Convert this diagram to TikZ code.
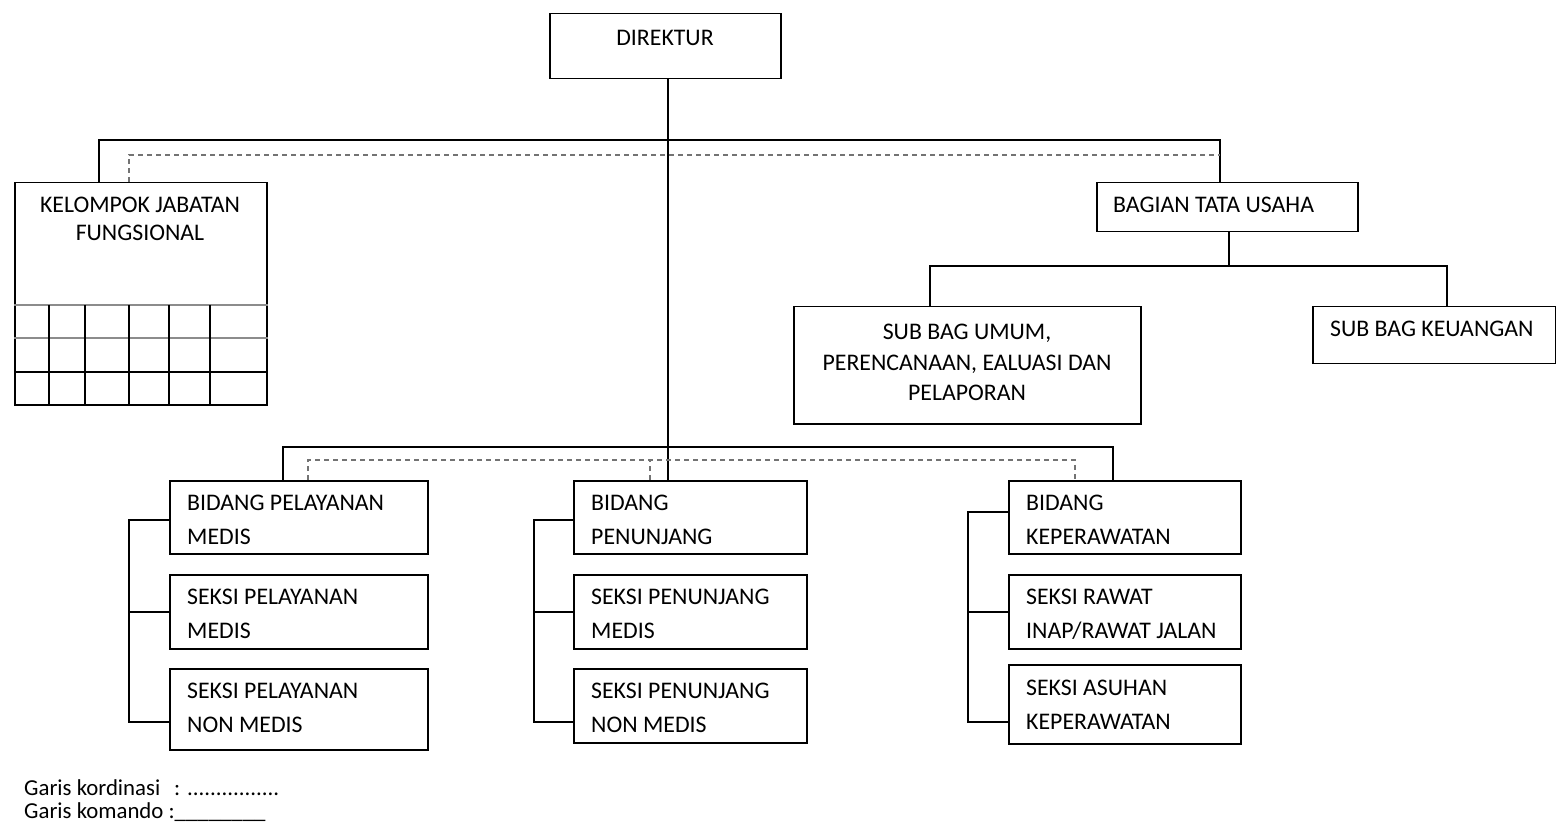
\documentclass[tikz,border=0pt]{standalone}
\usepackage{fontspec}
\setmainfont{Carlito}
\usetikzlibrary{calc}
\begin{document}
\begin{tikzpicture}[x=1pt,y=-1pt,
  box/.style={draw, line width=1.5pt, rectangle, inner sep=0pt, anchor=north west},
  lbl/.style={font=\fontsize{23.8}{34}\selectfont, align=left, inner sep=0pt, anchor=west},
  legend/.style={font=\fontsize{22.8}{24}\selectfont, inner sep=0pt, anchor=west},
  cmd/.style={line width=1.5pt},
  coordline/.style={line width=1.4pt, black!55, dash pattern=on 5pt off 4pt},
  gridln/.style={line width=1.5pt},
  gridgrey/.style={line width=1.3pt, black!45}]
\useasboundingbox (0,0) rectangle (1556,826);
% top level
\node[box, minimum width=231pt, minimum height=65pt] (dir) at (549,13) {};
\node[lbl, anchor=center] (dirT) at (665,38) {DIREKTUR};
% kelompok jabatan fungsional
\node[box, minimum width=252pt, minimum height=222pt] (kjf) at (14,182) {};
\node[lbl, anchor=center, align=center, font=\fontsize{23.8}{28}\selectfont] (kjfT) at (140,219) {KELOMPOK JABATAN\\FUNGSIONAL};
\draw[gridgrey] ($(kjf.north west)+(0,123)$) -- ($(kjf.north east)+(0,123)$);
\draw[gridgrey] ($(kjf.north west)+(0,156)$) -- ($(kjf.north east)+(0,156)$);
\draw[gridln] ($(kjf.north west)+(0,190)$) -- ($(kjf.north east)+(0,190)$);
\foreach \dx in {35,71,115,155,196}
  \draw[gridln] ($(kjf.north west)+(\dx,123)$) -- ($(kjf.south west)+(\dx,0)$);
% tata usaha
\node[box, minimum width=261pt, minimum height=49pt] (btu) at (1096,182) {};
\node[lbl] (btuT) at (1113,205) {BAGIAN TATA USAHA};
\node[box, minimum width=347pt, minimum height=117pt] (sbu) at (793,306) {};
\node[lbl, anchor=center, align=center, font=\fontsize{23.8}{30.5}\selectfont] (sbuT) at (967,362.5) {SUB BAG UMUM,\\PERENCANAAN, EALUASI DAN\\PELAPORAN};
\node[box, minimum width=243pt, minimum height=57pt] (sbk) at (1312,306) {};
\node[lbl] (sbkT) at (1330,329) {SUB BAG KEUANGAN};
% column 1
\node[box, minimum width=258pt, minimum height=73pt] (bpm) at (169,480) {};
\node[lbl] (bpmT) at ($(bpm.north west)+(18,40)$) {BIDANG PELAYANAN\\MEDIS};
\node[box, minimum width=258pt, minimum height=74pt] (spm) at (169,574) {};
\node[lbl] (spmT) at ($(spm.north west)+(18,40)$) {SEKSI PELAYANAN\\MEDIS};
\node[box, minimum width=258pt, minimum height=81pt] (spn) at (169,668) {};
\node[lbl] (spnT) at ($(spn.north west)+(18,40)$) {SEKSI PELAYANAN\\NON MEDIS};
% column 2
\node[box, minimum width=233pt, minimum height=73pt] (bpj) at (573,480) {};
\node[lbl] (bpjT) at ($(bpj.north west)+(18,40)$) {BIDANG\\PENUNJANG};
\node[box, minimum width=233pt, minimum height=74pt] (spjm) at (573,574) {};
\node[lbl] (spjmT) at ($(spjm.north west)+(18,40)$) {SEKSI PENUNJANG\\MEDIS};
\node[box, minimum width=233pt, minimum height=74pt] (spjn) at (573,668) {};
\node[lbl] (spjnT) at ($(spjn.north west)+(18,40)$) {SEKSI PENUNJANG\\NON MEDIS};
% column 3
\node[box, minimum width=232pt, minimum height=73pt] (bkp) at (1008,480) {};
\node[lbl] (bkpT) at ($(bkp.north west)+(18,40)$) {BIDANG\\KEPERAWATAN};
\node[box, minimum width=232pt, minimum height=74pt] (srw) at (1008,574) {};
\node[lbl] (srwT) at ($(srw.north west)+(18,40)$) {SEKSI RAWAT\\INAP/RAWAT JALAN};
\node[box, minimum width=232pt, minimum height=79pt] (sas) at (1008,664) {};
\node[lbl] (sasT) at ($(sas.north west)+(18,41)$) {SEKSI ASUHAN\\KEPERAWATAN};
% connection points
\coordinate (topbus) at (0,140);
\coordinate (topdash) at (0,155);
\coordinate (tubus) at (0,266);
\coordinate (botbus) at (0,447);
\coordinate (dashbus) at (0,460);
\coordinate (kjfA) at ($(kjf.north west)+(85,0)$);
\coordinate (kjfB) at ($(kjf.north west)+(115,0)$);
\coordinate (btuA) at ($(btu.north west)+(124,0)$);
\coordinate (btuB) at ($(btu.south)+(1.5,0)$);
\coordinate (sbuA) at ($(sbu.north west)+(137,0)$);
\coordinate (sbkA) at ($(sbk.north west)+(135,0)$);
\coordinate (bpmA) at ($(bpm.north west)+(114,0)$);
\coordinate (bpmB) at ($(bpm.north west)+(139,0)$);
\coordinate (bpjB) at ($(bpj.north west)+(77,0)$);
\coordinate (bkpA) at ($(bkp.north west)+(105,0)$);
\coordinate (bkpB) at ($(bkp.north west)+(67,0)$);
\coordinate (dirA) at ($(dir.south)+(2.5,0)$);
% command lines (solid)
\draw[cmd] (dirA) -- (dirA |- bpj.north);
\draw[cmd] (kjfA) -- (kjfA |- topbus) -- (btuA |- topbus) -- (btuA);
\draw[cmd] (btuB) -- (btuB |- tubus);
\draw[cmd] (sbuA) -- (sbuA |- tubus) -- (sbkA |- tubus) -- (sbkA);
\draw[cmd] (bpmA) -- (bpmA |- botbus) -- (bkpA |- botbus) -- (bkpA);
% brackets
\draw[cmd] ($(bpm.north west)+(0,40)$) -- ++(-40,0) |- ($(spn.north west)+(0,54)$);
\draw[cmd] (spm.west) -- ++(-40,0);
\draw[cmd] ($(bpj.north west)+(0,40)$) -- ++(-39,0) |- ($(spjn.north west)+(0,54)$);
\draw[cmd] (spjm.west) -- ++(-39,0);
\draw[cmd] ($(bkp.north west)+(0,32)$) -- ++(-40,0) |- ($(sas.north west)+(0,58)$);
\draw[cmd] (srw.west) -- ++(-40,0);
% coordination lines (dashed)
\draw[coordline] (kjfB) -- (kjfB |- topdash) -- (btuA |- topdash);
\draw[coordline] (bpmB) -- (bpmB |- dashbus) -- (bkpB |- dashbus) -- (bkpB);
\draw[coordline] (bpjB) -- (bpjB |- dashbus);
% legend
\node[legend] (leg1) at (24,788) {Garis kordinasi\hspace{14pt}: ................};
\node[legend] (leg2) at (24,812) {Garis komando :\_\_\_\_\_\_\_\_};
\end{tikzpicture}
\end{document}
